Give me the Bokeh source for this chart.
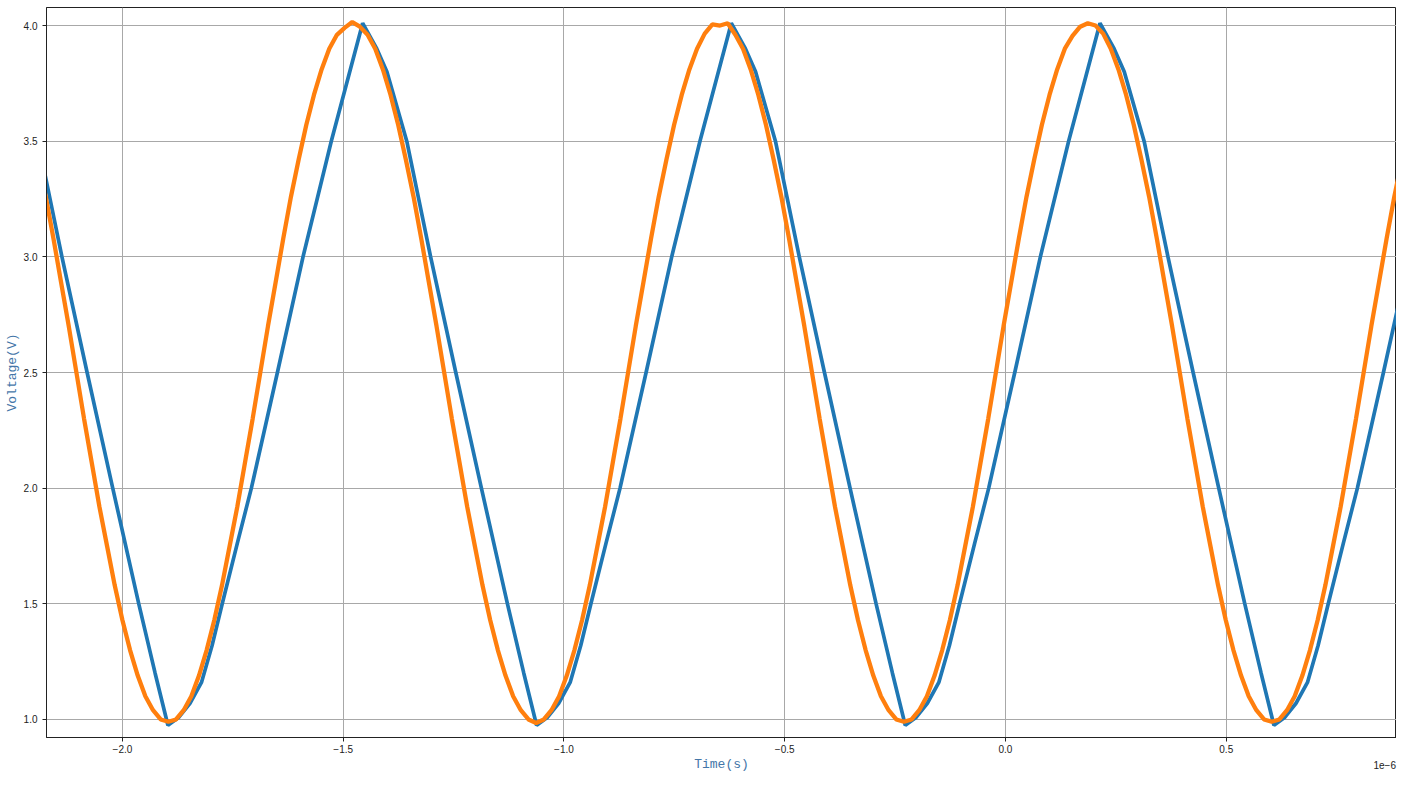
import numpy as np
from bokeh.plotting import figure
from bokeh.models import FixedTicker, CustomJSTickFormatter, Range1d, Div
from bokeh.layouts import column
from bokeh.embed import file_html
from bokeh.resources import INLINE

# ---- data (time in microseconds, voltage in V) ----
# blue trace: vertices
blue_time_us = [
    -2.236, -2.191, -2.137, -2.080, -2.022, -1.963, -1.926,
    -1.897, -1.872, -1.847, -1.821, -1.797, -1.774, -1.740, -1.708, -1.649, -1.591,
    -1.527, -1.456, -1.424, -1.401, -1.356, -1.302, -1.245, -1.187, -1.128, -1.091,
    -1.062, -1.037, -1.012, -0.986, -0.962, -0.939, -0.905, -0.873, -0.814, -0.756,
    -0.692, -0.621, -0.589, -0.566, -0.521, -0.467, -0.410, -0.352, -0.293, -0.256,
    -0.227, -0.202, -0.177, -0.151, -0.127, -0.104, -0.070, -0.038, 0.021, 0.079,
    0.143, 0.214, 0.246, 0.269, 0.314, 0.368, 0.425, 0.483, 0.542, 0.579,
    0.608, 0.633, 0.658, 0.684, 0.708, 0.731, 0.765, 0.797, 0.856, 0.914,
]
blue_volt = [
    3.80, 3.50, 3.00, 2.50, 2.00, 1.50, 1.20,
    0.975, 1.01, 1.07, 1.16, 1.32, 1.50, 1.76, 2.00, 2.50, 3.00,
    3.50, 4.01, 3.90, 3.80, 3.50, 3.00, 2.50, 2.00, 1.50, 1.20,
    0.975, 1.01, 1.07, 1.16, 1.32, 1.50, 1.76, 2.00, 2.50, 3.00,
    3.50, 4.01, 3.90, 3.80, 3.50, 3.00, 2.50, 2.00, 1.50, 1.20,
    0.975, 1.01, 1.07, 1.16, 1.32, 1.50, 1.76, 2.00, 2.50, 3.00,
    3.50, 4.01, 3.90, 3.80, 3.50, 3.00, 2.50, 2.00, 1.50, 1.20,
    0.975, 1.01, 1.07, 1.16, 1.32, 1.50, 1.76, 2.00, 2.50, 3.00,
]

orange_t_start_us = -2.19102
orange_t_end_us = 0.91535
orange_volt = [
    3.42, 3.26, 3.08, 2.89, 2.70, 2.50, 2.30, 2.11, 1.92, 1.75, 1.58, 1.43, 1.30, 1.19, 1.10, 1.04, 1.00,
    0.99, 1.00, 1.04, 1.10, 1.19, 1.30, 1.43, 1.58, 1.75, 1.92, 2.11, 2.30, 2.50, 2.70, 2.89, 3.08,
    3.26, 3.42, 3.57, 3.70, 3.81, 3.90, 3.96, 3.99, 4.015, 3.995, 3.96, 3.90, 3.81, 3.70, 3.57, 3.42,
    3.26, 3.08, 2.89, 2.70, 2.50, 2.30, 2.11, 1.92, 1.75, 1.58, 1.43, 1.30, 1.19, 1.10, 1.04, 1.00,
    0.985, 1.00, 1.04, 1.10, 1.19, 1.30, 1.43, 1.58, 1.75, 1.92, 2.11, 2.30, 2.50, 2.70, 2.89, 3.08,
    3.26, 3.42, 3.57, 3.70, 3.81, 3.90, 3.965, 4.005, 4.00, 4.01, 3.96, 3.90, 3.81, 3.70, 3.57, 3.42,
    3.26, 3.08, 2.89, 2.70, 2.50, 2.30, 2.11, 1.92, 1.75, 1.58, 1.43, 1.30, 1.19, 1.10, 1.04, 1.00,
    0.99, 1.00, 1.04, 1.10, 1.19, 1.30, 1.43, 1.58, 1.75, 1.92, 2.11, 2.30, 2.50, 2.70, 2.89, 3.08,
    3.26, 3.42, 3.57, 3.70, 3.81, 3.90, 3.955, 3.995, 4.01, 4.00, 3.965, 3.90, 3.81, 3.70, 3.57, 3.42,
    3.26, 3.08, 2.89, 2.70, 2.50, 2.30, 2.11, 1.92, 1.75, 1.58, 1.43, 1.30, 1.19, 1.10, 1.04, 1.00,
    0.99, 1.00, 1.04, 1.10, 1.19, 1.30, 1.43, 1.58, 1.75, 1.92, 2.11, 2.30, 2.50, 2.70, 2.89, 3.08,
    3.26, 3.42, 3.57,
]

x_ticks_us = [-2.0, -1.5, -1.0, -0.5, 0.0, 0.5]
y_ticks = [1.0, 1.5, 2.0, 2.5, 3.0, 3.5, 4.0]
x_label = "Time(s)"
y_label = "Voltage(V)"
offset_text = "1e\u22126"

SCALE = 1e-6
blue_t = np.array(blue_time_us) * SCALE
orange_t = np.linspace(orange_t_start_us, orange_t_end_us, len(orange_volt)) * SCALE

x_min, x_max = -2.172 * SCALE, 0.8856 * SCALE
y_min, y_max = 0.922, 4.078

p = figure(frame_width=1350, frame_height=730, output_backend="svg", toolbar_location=None,
           x_range=Range1d(x_min, x_max), y_range=Range1d(y_min, y_max),
           min_border_left=46, min_border_right=0, min_border_top=7, min_border_bottom=0)

p.line(blue_t, blue_volt, line_color="#1f77b4", line_width=3.7)
p.line(orange_t, orange_volt, line_color="#ff7f0e", line_width=4.3)

TICK_FONT = "Liberation Sans"
LABEL_FONT = "Liberation Mono"
p.xaxis.ticker = FixedTicker(ticks=[t * SCALE for t in x_ticks_us])
p.yaxis.ticker = FixedTicker(ticks=y_ticks)
p.xaxis.formatter = CustomJSTickFormatter(code="return (tick/1e-6).toFixed(1).replace('-', '\u2212');")
p.yaxis.formatter = CustomJSTickFormatter(code="return tick.toFixed(1);")

for ax in (p.xaxis, p.yaxis):
    ax.major_label_text_font = TICK_FONT
    ax.major_label_text_font_size = "10px"
    ax.major_label_text_color = "#222222"
    ax.axis_label_text_font = LABEL_FONT
    ax.axis_label_text_font_size = "13px"
    ax.axis_label_text_font_style = "normal"
    ax.axis_label_text_color = "#4476a8"
    ax.minor_tick_line_color = None
    ax.major_tick_in = 0
    ax.major_tick_out = 4
    ax.major_tick_line_color = "#222222"
    ax.axis_line_color = "#222222"
    ax.axis_label_standoff = 1

p.yaxis.major_label_standoff = 5
p.xaxis.major_label_standoff = 3
p.xaxis.axis_label = x_label
p.yaxis.axis_label = y_label

p.xgrid.ticker = p.xaxis.ticker
p.ygrid.ticker = p.yaxis.ticker
p.grid.grid_line_color = "#a8a8a8"
p.grid.grid_line_width = 1

p.outline_line_color = "#222222"
p.outline_line_width = 1
p.background_fill_color = "white"
p.border_fill_color = "white"

offset_div = Div(text=offset_text, width=30, height=12, margin=(-14, 0, 0, 1366),
                 styles={"font-family": TICK_FONT, "font-size": "10px", "color": "#222222",
                         "text-align": "right", "line-height": "12px"})

layout = column(p, offset_div, spacing=0)
open("out.html", "w").write(file_html(layout, INLINE))
